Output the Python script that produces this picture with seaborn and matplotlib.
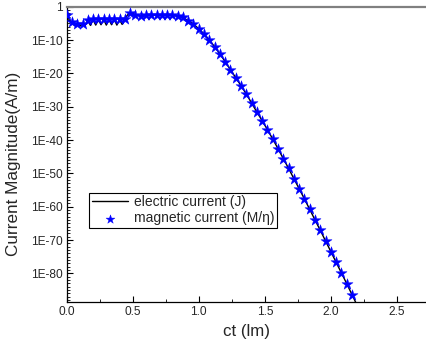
import numpy as np
import pandas as pd
import matplotlib
matplotlib.use("Agg")
import matplotlib.pyplot as plt
from matplotlib.ticker import FixedLocator, FuncFormatter, NullFormatter
import seaborn as sns

# ---- data (log10 of current magnitude) ----
mag_x = [0.00, 0.04, 0.08, 0.12, 0.16, 0.20, 0.24, 0.28, 0.32, 0.36, 0.40, 0.44,
         0.48, 0.52, 0.56, 0.60, 0.64, 0.68, 0.72, 0.76, 0.80, 0.84, 0.88, 0.92,
         0.96, 1.00, 1.04, 1.08, 1.12, 1.16, 1.20, 1.24, 1.28, 1.32, 1.36, 1.40,
         1.44, 1.48, 1.52, 1.56, 1.60, 1.64, 1.68, 1.72, 1.76, 1.80, 1.84, 1.88,
         1.92, 1.96, 2.00, 2.04, 2.08, 2.12, 2.16]
mag_log = [-2.5, -4.7, -5.2, -5.3, -4.0, -3.8, -3.8, -3.7, -3.8, -3.7, -3.8, -3.6,
           -1.9, -2.4, -2.7, -2.6, -2.6, -2.5, -2.5, -2.5, -2.6, -2.8, -3.2, -4.2,
           -5.2, -6.6, -8.2, -10.0, -12.0, -14.1, -16.5, -18.9, -21.3, -23.7, -26.2, -28.9,
           -31.6, -34.2, -36.9, -39.7, -42.6, -45.6, -48.5, -51.6, -54.6, -57.7, -60.8, -64.0,
           -67.1, -70.3, -73.5, -76.7, -79.9, -83.1, -86.4]

ele_x = [0.00, 0.02, 0.04, 0.06, 0.08, 0.10, 0.12, 0.14, 0.16, 0.18, 0.20, 0.22,
         0.24, 0.26, 0.28, 0.30, 0.32, 0.34, 0.36, 0.38, 0.40, 0.42, 0.44, 0.46,
         0.48, 0.50, 0.52, 0.56, 0.60, 0.64, 0.68, 0.72, 0.76, 0.80, 0.84, 0.88,
         0.92, 0.96, 1.00, 1.04, 1.08, 1.12, 1.16, 1.20, 1.24, 1.28, 1.32, 1.36,
         1.40, 1.44, 1.48, 1.52, 1.56, 1.60, 1.64, 1.68, 1.72, 1.76, 1.80, 1.84,
         1.88, 1.92, 1.96, 2.00, 2.04, 2.08, 2.12, 2.16, 2.20]
ele_log = [-2.3, -4.0, -4.8, -5.6, -5.2, -5.8, -5.3, -5.6, -4.1, -5.6, -3.9, -5.5,
           -3.9, -5.4, -3.8, -5.5, -3.9, -5.4, -3.8, -5.5, -3.9, -5.3, -3.6, -2.5,
           -1.8, -1.9, -2.5, -2.7, -2.6, -2.6, -2.5, -2.5, -2.5, -2.6, -2.8, -3.2,
           -4.2, -5.2, -6.6, -8.2, -10.0, -12.0, -14.1, -16.5, -18.9, -21.3, -23.7, -26.2,
           -28.9, -31.6, -34.2, -36.9, -39.7, -42.6, -45.6, -48.5, -51.6, -54.6, -57.7, -60.8,
           -64.0, -67.1, -70.3, -73.5, -76.7, -79.9, -83.1, -86.4, -89.7]

x_ticks = [0.0, 0.5, 1.0, 1.5, 2.0, 2.5]
y_major_exp = [0, -10, -20, -30, -40, -50, -60, -70, -80]

df_mag = pd.DataFrame({"ct": mag_x, "val": np.power(10.0, mag_log)})
df_ele = pd.DataFrame({"ct": ele_x, "val": np.power(10.0, ele_log)})

sns.set_style("ticks")
plt.rcParams["font.family"] = ["Liberation Sans", "DejaVu Sans"]

fig = plt.figure(figsize=(4.26, 3.45), dpi=100)
ax = fig.add_axes([0.1565, 0.1246, 0.8435, 0.856])

sns.lineplot(data=df_ele, x="ct", y="val", ax=ax, color="black", lw=1.0,
             label="electric current (J)", zorder=2)
sns.scatterplot(data=df_mag, x="ct", y="val", ax=ax, color="#0000ff", marker="*",
                s=70, edgecolor="#0000ff", linewidth=0.3,
                label="magnetic current (M/\u03b7)", zorder=3)

ax.set_yscale("log")
ax.set_xlim(0, 2.72)
ax.set_ylim(10.0 ** -88.6, 10.0 ** 0.02)

ax.xaxis.set_major_locator(FixedLocator(x_ticks))
ax.xaxis.set_minor_locator(FixedLocator([0.25, 0.75, 1.25, 1.75, 2.25]))
ax.xaxis.set_major_formatter(FuncFormatter(lambda v, p: f"{v:.1f}"))

majors = [10.0 ** e for e in y_major_exp]
minors = [10.0 ** e for e in range(-88, 0) if e % 10 != 0]
ax.yaxis.set_major_locator(FixedLocator(majors))
ax.yaxis.set_minor_locator(FixedLocator(minors))
ax.yaxis.set_minor_formatter(NullFormatter())

def yfmt(v, p):
    e = int(round(np.log10(v)))
    return "1" if e == 0 else f"1E{e}"
ax.yaxis.set_major_formatter(FuncFormatter(yfmt))

ax.tick_params(which="major", direction="in", length=4, width=0.8, labelsize=8.6,
               color="black", pad=3)
ax.tick_params(which="minor", direction="in", length=2, width=0.6, color="black")
ax.tick_params(axis="x", which="both", top=False)
ax.tick_params(axis="y", which="both", right=False)

for s in ["left", "bottom"]:
    ax.spines[s].set_color("black")
    ax.spines[s].set_linewidth(0.9)
ax.spines["top"].set_color("#808080")
ax.spines["top"].set_linewidth(1.6)
ax.spines["right"].set_visible(False)

ax.set_xlabel("ct (lm)", fontsize=12.2)
ax.set_ylabel("Current Magnitude(A/m)", fontsize=12.3)
ax.xaxis.set_label_coords(0.5, -0.075)
ax.yaxis.set_label_coords(-0.127, 0.467)

leg = ax.legend(loc="lower left", bbox_to_anchor=(0.063, 0.25), fontsize=10,
                frameon=True, fancybox=False, framealpha=1, edgecolor="black",
                handlelength=2.6, handletextpad=0.4, borderpad=0.2,
                labelspacing=0.15, borderaxespad=0, markerscale=0.8)
leg.get_frame().set_linewidth(0.8)

fig.savefig("out.png", dpi=100)
